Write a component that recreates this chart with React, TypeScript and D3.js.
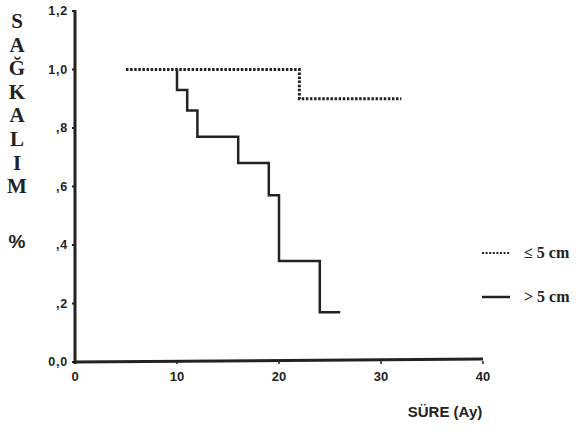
import React from 'react';
import * as d3 from 'd3';

// Kaplan-Meier survival, tumour size groups
const smallTimes = [5, 22, 22, 32];
const smallSurv = [1.0, 1.0, 0.9, 0.9];
const largeTimes = [10, 10, 11, 11, 12, 12, 16, 16, 19, 19, 20, 20, 24, 24, 26];
const largeSurv = [1.0, 0.93, 0.93, 0.86, 0.86, 0.77, 0.77, 0.68, 0.68, 0.57, 0.57, 0.345, 0.345, 0.17, 0.17];

const yTicks = [0, 0.2, 0.4, 0.6, 0.8, 1.0, 1.2];
const yTickLabels = ['0,0', ',2', ',4', ',6', ',8', '1,0', '1,2'];
const xTicks = [0, 10, 20, 30, 40];
const titleLetters = ['S', 'A', 'Ğ', 'K', 'A', 'L', 'I', 'M'];
const legendLabels = ['≤ 5 cm', '> 5 cm'];

const W = 588, H = 431;
const sans = 'Arial, "Liberation Sans", sans-serif';
const serif = '"Times New Roman", "Liberation Serif", serif';

export default function App() {
  const x = d3.scaleLinear().domain([0, 40]).range([75, 483]);
  const y = d3.scaleLinear().domain([0, 1.2]).range([362, 11]);

  const line = d3.line<[number, number]>()
    .x(d => x(d[0]))
    .y(d => y(d[1]));

  const smallPts = smallTimes.map((t, i) => [t, smallSurv[i]] as [number, number]);
  const largePts = largeTimes.map((t, i) => [t, largeSurv[i]] as [number, number]);

  return (
    <svg width={W} height={H} style={{ position: 'absolute', left: 0, top: 0, background: '#fff' }}>
      {/* y title letters */}
      {titleLetters.map((l, i) => (
        <text key={l + i} x={17} y={28 + i * 23.6} textAnchor="middle" fontFamily={serif} fontWeight="bold" fontSize={21} fill="#222">{l}</text>
      ))}
      <text x={17} y={248} textAnchor="middle" fontFamily={sans} fontWeight="bold" fontSize={19} fill="#222">%</text>

      {/* y axis */}
      <line x1={x(0)} y1={y(1.2) - 1} x2={x(0)} y2={y(0) + 2} stroke="#222" strokeWidth={3} />
      {yTicks.map((t, i) => (
        <g key={t}>
          <line x1={x(0) - 3} x2={x(0)} y1={y(t)} y2={y(t)} stroke="#222" strokeWidth={2} />
          <text x={x(0) - 7} y={y(t) + 4} textAnchor="end" fontFamily={sans} fontWeight="bold" fontSize={12.5} letterSpacing={0.8} fill="#222">{yTickLabels[i]}</text>
        </g>
      ))}

      {/* x axis */}
      <line x1={x(0) - 1} y1={y(0)} x2={x(40)} y2={y(0) - 3} stroke="#222" strokeWidth={3} />
      {xTicks.map(t => (
        <g key={t}>
          <line x1={x(t)} x2={x(t)} y1={y(0) - 1} y2={y(0) + 2} stroke="#222" strokeWidth={1.5} />
          <text x={x(t)} y={381} textAnchor="middle" fontFamily={sans} fontWeight="bold" fontSize={13} fill="#222">{t}</text>
        </g>
      ))}
      <text x={445} y={417} textAnchor="middle" fontFamily={sans} fontWeight="bold" fontSize={15} fill="#222">SÜRE (Ay)</text>

      {/* curves */}
      <path d={line(smallPts) || ''} fill="none" stroke="#222" strokeWidth={3} strokeDasharray="2.5 1.6" />
      <path d={line(largePts) || ''} fill="none" stroke="#222" strokeWidth={2.5} />

      {/* legend */}
      <line x1={482} x2={510} y1={253} y2={253} stroke="#222" strokeWidth={2} strokeDasharray="2 1.6" />
      <text x={524} y={258} fontFamily={serif} fontWeight="bold" fontSize={16} fill="#222">{legendLabels[0]}</text>
      <line x1={482} x2={510} y1={297} y2={297} stroke="#222" strokeWidth={2.5} />
      <text x={524} y={302} fontFamily={serif} fontWeight="bold" fontSize={16} fill="#222">{legendLabels[1]}</text>
    </svg>
  );
}
